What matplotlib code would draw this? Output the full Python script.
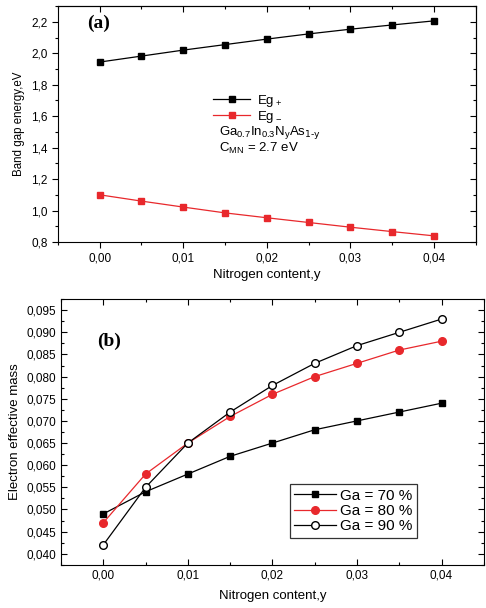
import matplotlib
matplotlib.use("Agg")
import matplotlib.pyplot as plt
from matplotlib.ticker import MultipleLocator, FuncFormatter

plt.rcParams['font.family'] = ['Liberation Sans', 'DejaVu Sans']
plt.rcParams['mathtext.default'] = 'regular'

# data
y_n = [0.0, 0.005, 0.01, 0.015, 0.02, 0.025, 0.03, 0.035, 0.04]
eg_plus = [1.944, 1.982, 2.020, 2.055, 2.090, 2.123, 2.153, 2.180, 2.206]
eg_minus = [1.100, 1.060, 1.022, 0.985, 0.954, 0.924, 0.894, 0.866, 0.839]

ga70 = [0.049, 0.054, 0.058, 0.062, 0.065, 0.068, 0.070, 0.072, 0.074]
ga80 = [0.047, 0.058, 0.065, 0.071, 0.076, 0.080, 0.083, 0.086, 0.088]
ga90 = [0.042, 0.055, 0.065, 0.072, 0.078, 0.083, 0.087, 0.090, 0.093]

red = '#e8282c'


def comma(dec):
    return FuncFormatter(lambda v, p: f"{v:.{dec}f}".replace('.', ','))


def set_locators(ax, xmaj, xmin, ymaj, ymin):
    ax.xaxis.set_major_locator(MultipleLocator(xmaj))
    ax.xaxis.set_minor_locator(MultipleLocator(xmin))
    ax.yaxis.set_major_locator(MultipleLocator(ymaj))
    ax.yaxis.set_minor_locator(MultipleLocator(ymin))


def mirror_ticks(ax, xmaj, xmin, ymaj, ymin):
    # inward ticks on top and right, no labels
    top = ax.secondary_xaxis('top')
    right = ax.secondary_yaxis('right')
    top.xaxis.set_major_locator(MultipleLocator(xmaj))
    top.xaxis.set_minor_locator(MultipleLocator(xmin))
    right.yaxis.set_major_locator(MultipleLocator(ymaj))
    right.yaxis.set_minor_locator(MultipleLocator(ymin))
    for a in (top, right):
        a.tick_params(which='both', direction='in', width=0.8,
                      labeltop=False, labelright=False)
        a.tick_params(which='major', length=4)
        a.tick_params(which='minor', length=2.5)


fig = plt.figure(figsize=(4.86, 6.08), dpi=100)

# panel (a)
ax1 = fig.add_axes([0.119, 0.602, 0.860, 0.388])
ax1.plot(y_n, eg_plus, color='black', lw=0.9, marker='s', ms=4.5, label='$Eg_+$')
ax1.plot(y_n, eg_minus, color=red, lw=0.9, marker='s', ms=4.5, label='$Eg_-$')
ax1.set_xlim(-0.005, 0.045)
ax1.set_ylim(0.8, 2.3)
set_locators(ax1, 0.01, 0.005, 0.2, 0.1)
ax1.xaxis.set_major_formatter(comma(2))
ax1.yaxis.set_major_formatter(comma(1))
ax1.tick_params(which='both', direction='out', labelsize=8.5, width=0.8)
ax1.tick_params(which='major', length=4)
ax1.tick_params(which='minor', length=2.5)
mirror_ticks(ax1, 0.01, 0.005, 0.2, 0.1)
ax1.set_xlabel('Nitrogen content,y', fontsize=9.5, labelpad=3)
ax1.set_ylabel('Band gap energy,eV', fontsize=8.3)
ax1.text(0.07, 0.965, '(a)', transform=ax1.transAxes, fontsize=14,
         fontweight='bold', family='Liberation Serif', va='top')
ax1.legend(loc='upper left', bbox_to_anchor=(0.369, 0.638), frameon=False,
           fontsize=9.5, handlelength=2.8, handletextpad=0.5, labelspacing=0.0,
           borderpad=0.1, borderaxespad=0)
ax1.text(0.385, 0.465, '$Ga_{0.7}In_{0.3}N_yAs_{\\text{1-y}}$',
         transform=ax1.transAxes, fontsize=9.5, va='center')
ax1.text(0.385, 0.395, '$C_{MN}$ = 2.7 eV', transform=ax1.transAxes,
         fontsize=9.5, va='center')

# panel (b)
ax2 = fig.add_axes([0.1255, 0.071, 0.870, 0.437])
ax2.plot(y_n, ga70, color='black', lw=0.9, marker='s', ms=5, label='Ga = 70 %')
ax2.plot(y_n, ga80, color=red, lw=0.9, marker='o', ms=5.5, mec=red, label='Ga = 80 %')
ax2.plot(y_n, ga90, color='black', lw=0.9, marker='o', ms=5.5, mfc='white',
         mec='black', label='Ga = 90 %')
ax2.set_xlim(-0.005, 0.045)
ax2.set_ylim(0.0375, 0.0975)
set_locators(ax2, 0.01, 0.005, 0.005, 0.0025)
ax2.xaxis.set_major_formatter(comma(2))
ax2.yaxis.set_major_formatter(comma(3))
ax2.tick_params(which='both', direction='in', labelsize=8.5, width=0.8,
                top=True, right=True)
ax2.tick_params(which='major', length=4)
ax2.tick_params(which='minor', length=2.5)
ax2.set_xlabel('Nitrogen content,y', fontsize=9.5, labelpad=6)
ax2.set_ylabel('Electron effective mass', fontsize=9.5)
ax2.text(0.085, 0.875, '(b)', transform=ax2.transAxes, fontsize=14,
         fontweight='bold', family='Liberation Serif', va='top')
leg = ax2.legend(loc='lower left', bbox_to_anchor=(0.541, 0.102), fontsize=11,
                 frameon=True, fancybox=False, edgecolor='black',
                 handlelength=2.7, handletextpad=0.3, labelspacing=0.08,
                 borderpad=0.3, borderaxespad=0)
leg.get_frame().set_linewidth(0.9)

fig.savefig('out.png', dpi=100)
